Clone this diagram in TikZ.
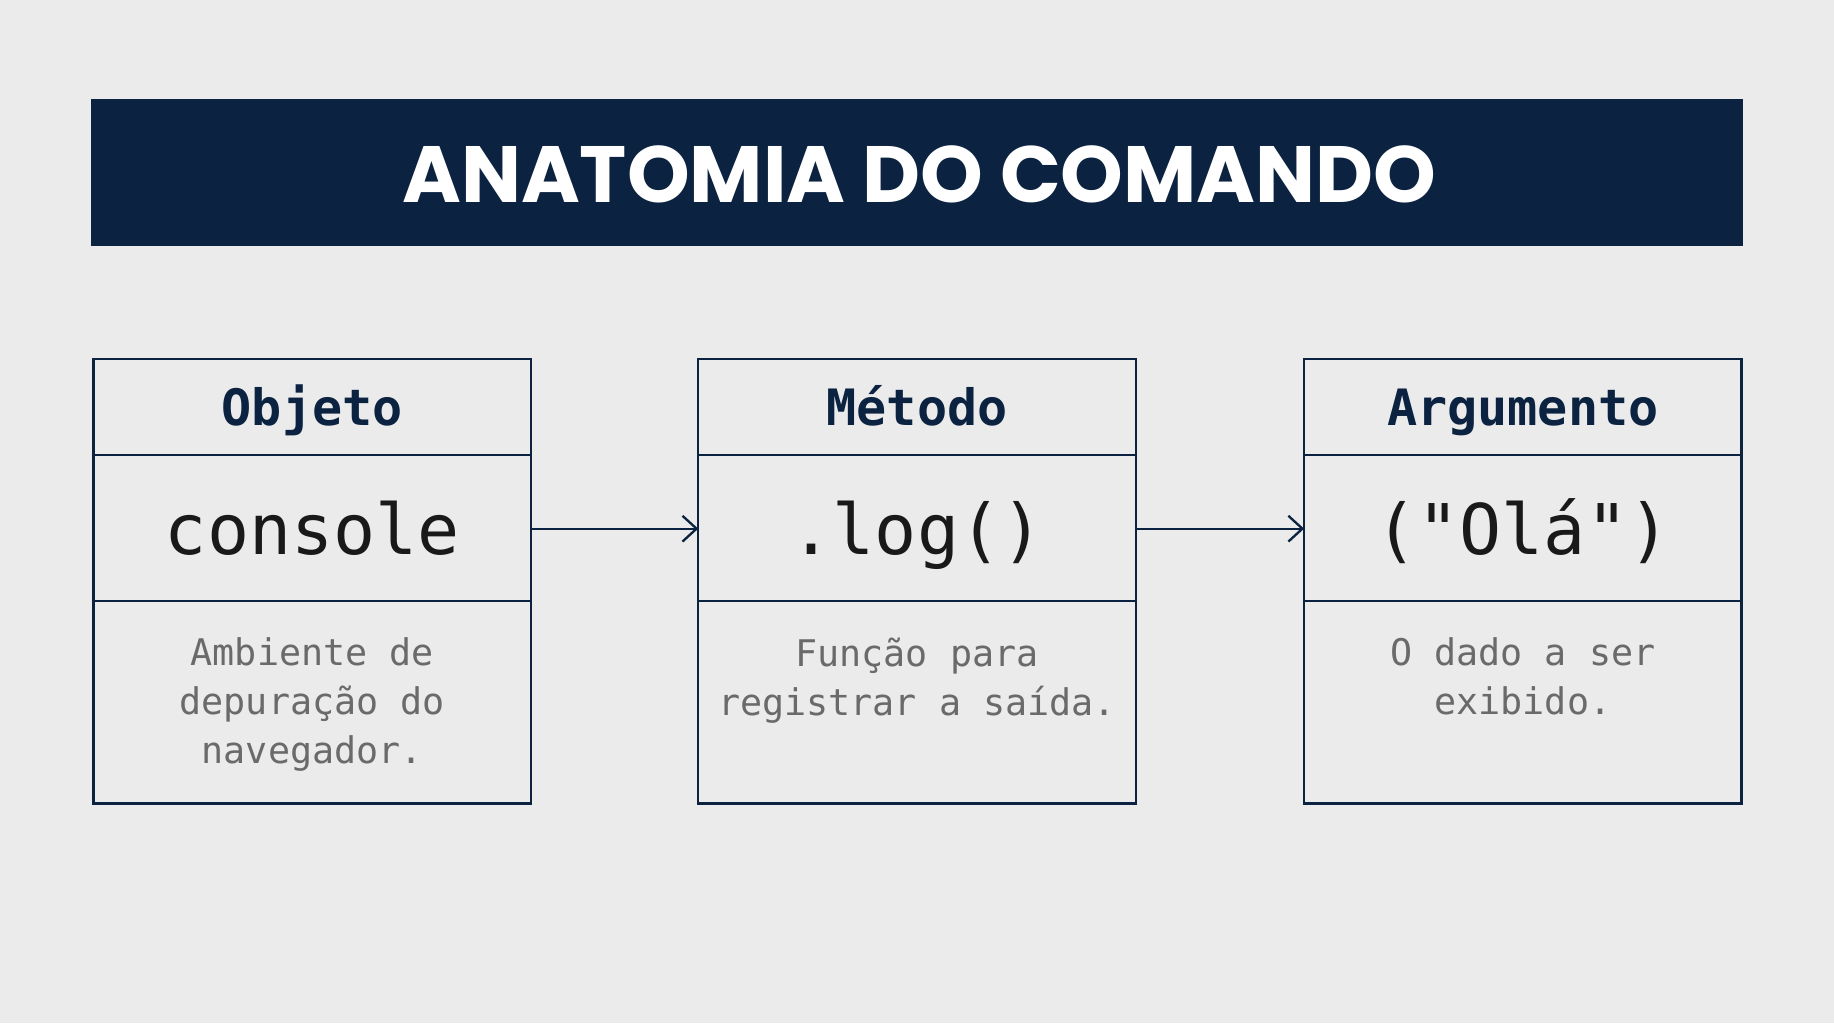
\documentclass[tikz,border=0pt]{standalone}
\usepackage{fontspec}
\setmainfont{Poppins}
\newfontfamily\monof{DejaVu Sans Mono}
\usetikzlibrary{arrows.meta}
\definecolor{navy}{HTML}{0B2340}
\definecolor{bg}{HTML}{EBEBEB}
\definecolor{desc}{HTML}{6A6A6A}
\tikzset{
 cell/.style={draw=navy,line width=2bp},
 hdr/.style={font=\monof\bfseries\fontsize{43}{50}\selectfont,text=navy,anchor=base},
 code/.style={font=\monof\fontsize{60}{70}\selectfont,text=black!90,anchor=base},
 dsc/.style={font=\monof\fontsize{31.5}{42}\selectfont,text=desc,align=center},
 conn/.style={draw=navy,line width=2bp,-{Straight Barb[length=12bp,width=22bp,line width=2bp]}}
}
\begin{document}
\begin{tikzpicture}[x=1bp,y=-1bp]
\fill[bg] (0,0) rectangle (1568,875);
\useasboundingbox (0,0) rectangle (1568,875);
\fill[navy] (78,85) rectangle (1490,210);
\node[text=white,font=\bfseries\fontsize{68.5}{70}\selectfont] (title) at (786,149) {ANATOMIA DO COMANDO};
\foreach \n/\x/\h/\c/\d in {a/80/Objeto/console/{Ambiente de\\depuração do\\navegador.},
  b/597/Método/.log()/{Função para\\registrar a saída.},
  c/1115/Argumento/("Olá")/{O dado a ser\\exibido.}}{
  \draw[cell] (\x,307) rectangle ++(374,380);
  \draw[cell] (\x,389) -- ++(374,0);
  \draw[cell] (\x,514) -- ++(374,0);
  \node[hdr] (\n h) at (\x+187,364) {\h};
  \node[code] (\n c) at (\x+187,474) {\c};
  \node[dsc,anchor=north] (\n d) at (\x+187,542) {\d};
  \coordinate (\n L) at (\x,452);
  \coordinate (\n R) at (\x+374,452);
}
\draw[conn] (aR) -- (bL);
\draw[conn] (bR) -- (cL);
\end{tikzpicture}
\end{document}
